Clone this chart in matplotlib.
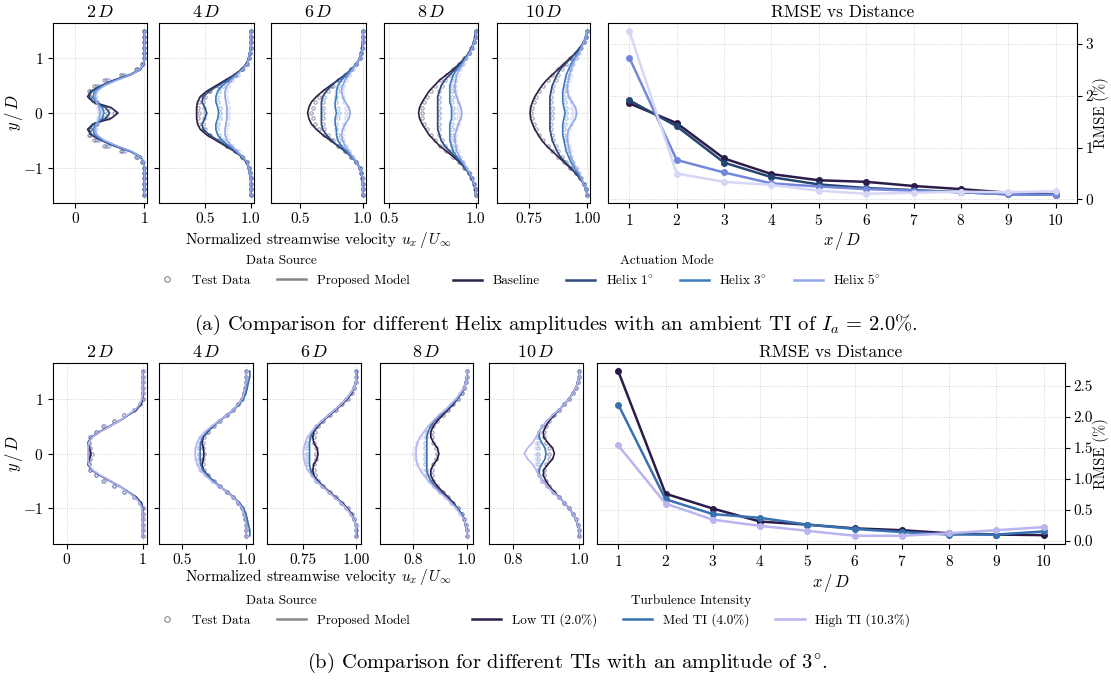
import numpy as np
import matplotlib
matplotlib.use("Agg")
import matplotlib.pyplot as plt
from matplotlib.lines import Line2D
from matplotlib.ticker import FormatStrFormatter

plt.rcParams.update({
    "font.family": "serif",
    "font.serif": ["cmr10", "DejaVu Serif"],
    "mathtext.fontset": "cm",
    "axes.formatter.use_mathtext": True,
    "axes.unicode_minus": True,
})

# ---------------- data ----------------
Y_HALF = [0.0, 0.1, 0.2, 0.3, 0.4, 0.5, 0.6, 0.7, 0.8, 0.9, 1.0, 1.1, 1.2, 1.3, 1.4, 1.5]
DIST_LABELS = ["$2\\,D$", "$4\\,D$", "$6\\,D$", "$8\\,D$", "$10\\,D$"]
X_DIST = [1, 2, 3, 4, 5, 6, 7, 8, 9, 10]

# (a) Helix amplitudes, half profiles u/U at |y|/D = Y_HALF, per distance 2,4,6,8,10 D
A_MODES = ["Baseline", "Helix 1$^{\\circ}$", "Helix 3$^{\\circ}$", "Helix 5$^{\\circ}$"]
A_BASE_MODEL = [
    [0.62, 0.52, 0.26, 0.18, 0.23, 0.38, 0.56, 0.80, 0.95, 0.99, 1.0, 1.0, 1.0, 1.0, 1.0, 1.0],
    [0.41, 0.41, 0.42, 0.45, 0.52, 0.62, 0.72, 0.82, 0.90, 0.95, 0.98, 0.99, 1.0, 1.0, 1.0, 1.0],
    [0.56, 0.57, 0.59, 0.63, 0.68, 0.74, 0.80, 0.86, 0.91, 0.95, 0.975, 0.99, 0.995, 1.0, 1.0, 1.0],
    [0.67, 0.675, 0.69, 0.71, 0.73, 0.76, 0.79, 0.83, 0.87, 0.905, 0.935, 0.96, 0.975, 0.99, 0.995, 1.0],
    [0.755, 0.757, 0.765, 0.775, 0.79, 0.805, 0.825, 0.85, 0.875, 0.90, 0.925, 0.95, 0.97, 0.985, 0.995, 1.0],
]
A_BASE_TEST = [
    [0.56, 0.48, 0.30, 0.21, 0.20, 0.27, 0.42, 0.66, 0.88, 0.97, 1.0, 1.0, 1.0, 1.0, 1.0, 1.0],
    [0.44, 0.43, 0.44, 0.48, 0.55, 0.64, 0.74, 0.83, 0.91, 0.96, 0.98, 0.99, 1.0, 1.0, 1.0, 1.0],
    [0.59, 0.60, 0.62, 0.65, 0.69, 0.75, 0.80, 0.86, 0.91, 0.95, 0.975, 0.99, 0.995, 1.0, 1.0, 1.0],
    [0.69, 0.69, 0.70, 0.72, 0.74, 0.765, 0.795, 0.83, 0.87, 0.905, 0.935, 0.96, 0.975, 0.99, 0.995, 1.0],
    [0.76, 0.762, 0.77, 0.78, 0.795, 0.81, 0.83, 0.85, 0.875, 0.90, 0.925, 0.95, 0.97, 0.985, 0.995, 1.0],
]
A_H1_MODEL = [
    [0.50, 0.44, 0.27, 0.20, 0.24, 0.38, 0.56, 0.79, 0.94, 0.99, 1.0, 1.0, 1.0, 1.0, 1.0, 1.0],
    [0.52, 0.50, 0.47, 0.48, 0.55, 0.64, 0.74, 0.83, 0.91, 0.96, 0.98, 0.99, 1.0, 1.0, 1.0, 1.0],
    [0.67, 0.67, 0.67, 0.68, 0.71, 0.75, 0.80, 0.86, 0.91, 0.95, 0.975, 0.99, 0.995, 1.0, 1.0, 1.0],
    [0.78, 0.78, 0.78, 0.78, 0.79, 0.80, 0.82, 0.85, 0.88, 0.91, 0.94, 0.96, 0.98, 0.99, 1.0, 1.0],
    [0.84, 0.84, 0.84, 0.84, 0.845, 0.85, 0.86, 0.87, 0.885, 0.905, 0.93, 0.95, 0.97, 0.985, 0.995, 1.0],
]
A_H1_TEST = [
    [0.46, 0.42, 0.29, 0.22, 0.22, 0.30, 0.45, 0.68, 0.89, 0.97, 1.0, 1.0, 1.0, 1.0, 1.0, 1.0],
    [0.50, 0.49, 0.48, 0.50, 0.56, 0.65, 0.74, 0.83, 0.91, 0.96, 0.98, 0.99, 1.0, 1.0, 1.0, 1.0],
    [0.68, 0.68, 0.68, 0.69, 0.72, 0.76, 0.81, 0.86, 0.91, 0.95, 0.975, 0.99, 0.995, 1.0, 1.0, 1.0],
    [0.79, 0.79, 0.785, 0.785, 0.79, 0.805, 0.825, 0.85, 0.88, 0.91, 0.94, 0.96, 0.98, 0.99, 1.0, 1.0],
    [0.85, 0.85, 0.845, 0.845, 0.85, 0.855, 0.865, 0.875, 0.89, 0.91, 0.93, 0.95, 0.97, 0.985, 0.995, 1.0],
]
A_H3_MODEL = [
    [0.42, 0.39, 0.30, 0.26, 0.28, 0.40, 0.58, 0.80, 0.94, 0.99, 1.0, 1.0, 1.0, 1.0, 1.0, 1.0],
    [0.65, 0.64, 0.62, 0.62, 0.64, 0.69, 0.76, 0.84, 0.91, 0.96, 0.98, 0.99, 1.0, 1.0, 1.0, 1.0],
    [0.79, 0.78, 0.78, 0.79, 0.79, 0.80, 0.83, 0.87, 0.91, 0.95, 0.975, 0.99, 1.0, 1.0, 1.0, 1.0],
    [0.86, 0.86, 0.85, 0.85, 0.85, 0.85, 0.86, 0.87, 0.89, 0.92, 0.94, 0.96, 0.98, 0.99, 1.0, 1.0],
    [0.905, 0.90, 0.895, 0.895, 0.895, 0.90, 0.905, 0.91, 0.92, 0.93, 0.945, 0.96, 0.975, 0.985, 0.995, 1.0],
]
A_H3_TEST = [
    [0.38, 0.36, 0.31, 0.27, 0.27, 0.33, 0.47, 0.70, 0.90, 0.98, 1.0, 1.0, 1.0, 1.0, 1.0, 1.0],
    [0.66, 0.66, 0.64, 0.63, 0.65, 0.70, 0.77, 0.84, 0.91, 0.96, 0.98, 0.99, 1.0, 1.0, 1.0, 1.0],
    [0.81, 0.80, 0.79, 0.79, 0.80, 0.81, 0.84, 0.87, 0.91, 0.95, 0.975, 0.99, 1.0, 1.0, 1.0, 1.0],
    [0.87, 0.87, 0.865, 0.86, 0.86, 0.86, 0.865, 0.875, 0.895, 0.92, 0.94, 0.96, 0.98, 0.99, 1.0, 1.0],
    [0.91, 0.91, 0.905, 0.90, 0.90, 0.905, 0.91, 0.915, 0.925, 0.935, 0.95, 0.96, 0.975, 0.985, 0.995, 1.0],
]
A_H5_MODEL = [
    [0.36, 0.35, 0.31, 0.29, 0.31, 0.42, 0.60, 0.81, 0.94, 0.99, 1.0, 1.0, 1.0, 1.0, 1.0, 1.0],
    [0.74, 0.74, 0.73, 0.72, 0.72, 0.74, 0.79, 0.85, 0.91, 0.96, 0.98, 0.99, 1.0, 1.0, 1.0, 1.0],
    [0.90, 0.89, 0.86, 0.84, 0.83, 0.84, 0.86, 0.89, 0.92, 0.95, 0.975, 0.99, 1.0, 1.0, 1.0, 1.0],
    [0.92, 0.915, 0.90, 0.89, 0.88, 0.88, 0.885, 0.89, 0.905, 0.925, 0.945, 0.965, 0.98, 0.99, 1.0, 1.0],
    [0.955, 0.95, 0.935, 0.92, 0.915, 0.915, 0.92, 0.925, 0.93, 0.94, 0.95, 0.965, 0.975, 0.985, 0.995, 1.0],
]
A_H5_TEST = [
    [0.34, 0.33, 0.31, 0.30, 0.30, 0.35, 0.49, 0.72, 0.91, 0.98, 1.0, 1.0, 1.0, 1.0, 1.0, 1.0],
    [0.75, 0.75, 0.74, 0.73, 0.73, 0.75, 0.80, 0.86, 0.92, 0.96, 0.98, 0.99, 1.0, 1.0, 1.0, 1.0],
    [0.87, 0.865, 0.85, 0.84, 0.835, 0.845, 0.865, 0.89, 0.92, 0.95, 0.975, 0.99, 1.0, 1.0, 1.0, 1.0],
    [0.90, 0.90, 0.895, 0.885, 0.88, 0.88, 0.885, 0.895, 0.91, 0.925, 0.945, 0.965, 0.98, 0.99, 1.0, 1.0],
    [0.94, 0.935, 0.93, 0.92, 0.915, 0.915, 0.92, 0.925, 0.93, 0.94, 0.95, 0.965, 0.975, 0.985, 0.995, 1.0],
]
A_RMSE_BASE = [1.85, 1.47, 0.79, 0.49, 0.37, 0.34, 0.26, 0.20, 0.13, 0.10]
A_RMSE_H1 = [1.91, 1.41, 0.71, 0.43, 0.29, 0.22, 0.18, 0.14, 0.10, 0.09]
A_RMSE_H3 = [2.73, 0.76, 0.52, 0.31, 0.25, 0.20, 0.17, 0.14, 0.10, 0.09]
A_RMSE_H5 = [3.24, 0.50, 0.34, 0.28, 0.17, 0.11, 0.13, 0.15, 0.14, 0.16]

# (b) Turbulence intensities
B_MODES = ["Low TI (2.0%)", "Med TI (4.0%)", "High TI (10.3%)"]
B_LOW_MODEL = [
    [0.32, 0.30, 0.28, 0.33, 0.44, 0.57, 0.70, 0.81, 0.92, 0.98, 1.0, 1.0, 1.0, 1.0, 1.0, 1.0],
    [0.67, 0.665, 0.655, 0.665, 0.70, 0.74, 0.79, 0.85, 0.90, 0.94, 0.97, 0.985, 0.995, 1.0, 1.0, 1.0],
    [0.82, 0.815, 0.80, 0.795, 0.80, 0.82, 0.845, 0.875, 0.905, 0.935, 0.96, 0.98, 0.99, 1.0, 1.0, 1.0],
    [0.895, 0.89, 0.875, 0.865, 0.865, 0.875, 0.89, 0.91, 0.93, 0.95, 0.965, 0.98, 0.99, 0.995, 1.0, 1.0],
    [0.925, 0.92, 0.905, 0.893, 0.892, 0.90, 0.91, 0.925, 0.94, 0.955, 0.97, 0.98, 0.99, 0.995, 1.0, 1.0],
]
B_LOW_TEST = [
    [0.33, 0.31, 0.29, 0.31, 0.38, 0.48, 0.62, 0.76, 0.89, 0.97, 1.0, 1.0, 1.0, 1.0, 1.0, 1.0],
    [0.67, 0.665, 0.66, 0.67, 0.70, 0.745, 0.795, 0.85, 0.90, 0.94, 0.97, 0.985, 0.995, 1.0, 1.0, 1.0],
    [0.81, 0.81, 0.80, 0.80, 0.805, 0.82, 0.845, 0.875, 0.905, 0.935, 0.96, 0.98, 0.99, 1.0, 1.0, 1.0],
    [0.89, 0.885, 0.875, 0.87, 0.87, 0.875, 0.89, 0.91, 0.93, 0.95, 0.965, 0.98, 0.99, 0.995, 1.0, 1.0],
    [0.91, 0.91, 0.90, 0.895, 0.895, 0.90, 0.91, 0.925, 0.94, 0.955, 0.97, 0.98, 0.99, 0.995, 1.0, 1.0],
]
B_MED_MODEL = [
    [0.29, 0.29, 0.28, 0.33, 0.44, 0.57, 0.70, 0.81, 0.91, 0.97, 0.995, 1.0, 1.0, 1.0, 1.0, 1.0],
    [0.64, 0.64, 0.645, 0.66, 0.70, 0.745, 0.795, 0.855, 0.905, 0.95, 0.98, 1.0, 1.01, 1.02, 1.03, 1.03],
    [0.78, 0.78, 0.78, 0.785, 0.795, 0.815, 0.84, 0.87, 0.90, 0.93, 0.955, 0.975, 0.99, 1.0, 1.005, 1.005],
    [0.85, 0.85, 0.85, 0.85, 0.855, 0.865, 0.88, 0.90, 0.925, 0.945, 0.965, 0.98, 0.99, 0.995, 1.0, 1.0],
    [0.90, 0.897, 0.887, 0.879, 0.88, 0.89, 0.905, 0.92, 0.94, 0.955, 0.97, 0.98, 0.99, 0.995, 1.0, 1.0],
]
B_MED_TEST = [
    [0.30, 0.30, 0.29, 0.31, 0.39, 0.49, 0.62, 0.76, 0.89, 0.97, 1.0, 1.0, 1.0, 1.0, 1.0, 1.0],
    [0.63, 0.63, 0.635, 0.65, 0.69, 0.74, 0.79, 0.85, 0.90, 0.94, 0.97, 0.985, 0.995, 1.0, 1.0, 1.0],
    [0.77, 0.77, 0.77, 0.78, 0.79, 0.81, 0.84, 0.87, 0.90, 0.93, 0.955, 0.975, 0.99, 1.0, 1.0, 1.0],
    [0.845, 0.845, 0.845, 0.847, 0.852, 0.862, 0.878, 0.90, 0.925, 0.945, 0.965, 0.98, 0.99, 0.995, 1.0, 1.0],
    [0.875, 0.875, 0.875, 0.875, 0.878, 0.888, 0.903, 0.92, 0.94, 0.955, 0.97, 0.98, 0.99, 0.995, 1.0, 1.0],
]
B_HIGH_MODEL = [
    [0.28, 0.28, 0.29, 0.34, 0.45, 0.58, 0.70, 0.80, 0.90, 0.96, 0.99, 1.0, 1.0, 1.0, 1.0, 1.0],
    [0.60, 0.605, 0.615, 0.64, 0.68, 0.73, 0.79, 0.85, 0.90, 0.94, 0.97, 0.985, 0.995, 1.0, 1.0, 1.0],
    [0.75, 0.752, 0.76, 0.77, 0.79, 0.81, 0.84, 0.87, 0.90, 0.93, 0.955, 0.975, 0.99, 1.0, 1.0, 1.0],
    [0.81, 0.81, 0.815, 0.825, 0.84, 0.855, 0.875, 0.895, 0.92, 0.94, 0.96, 0.975, 0.99, 0.995, 1.0, 1.0],
    [0.835, 0.845, 0.86, 0.87, 0.88, 0.89, 0.905, 0.92, 0.94, 0.955, 0.97, 0.98, 0.99, 0.995, 1.0, 1.0],
]
B_HIGH_TEST = [
    [0.29, 0.29, 0.295, 0.32, 0.40, 0.50, 0.63, 0.76, 0.88, 0.96, 0.99, 1.0, 1.0, 1.0, 1.0, 1.0],
    [0.61, 0.61, 0.62, 0.64, 0.68, 0.73, 0.785, 0.845, 0.90, 0.94, 0.97, 0.985, 0.995, 1.0, 1.0, 1.0],
    [0.76, 0.76, 0.765, 0.775, 0.79, 0.81, 0.84, 0.87, 0.90, 0.93, 0.955, 0.975, 0.99, 1.0, 1.0, 1.0],
    [0.80, 0.805, 0.815, 0.83, 0.845, 0.86, 0.878, 0.898, 0.92, 0.94, 0.96, 0.975, 0.99, 0.995, 1.0, 1.0],
    [0.87, 0.87, 0.87, 0.872, 0.878, 0.888, 0.903, 0.92, 0.94, 0.955, 0.97, 0.98, 0.99, 0.995, 1.0, 1.0],
]
B_RMSE_LOW = [2.74, 0.76, 0.52, 0.31, 0.26, 0.20, 0.17, 0.12, 0.10, 0.09]
B_RMSE_MED = [2.20, 0.67, 0.43, 0.37, 0.26, 0.19, 0.14, 0.10, 0.10, 0.15]
B_RMSE_HIGH = [1.54, 0.60, 0.34, 0.24, 0.16, 0.08, 0.08, 0.12, 0.17, 0.22]

# ---------------- styles ----------------
A_COLORS = ["#2e2148", "#2c4a7e", "#3f7cc0", "#93a6e8"]
A_RMSE_COLORS = ["#2b1c4a", "#264573", "#7388da", "#d6d7f6"]
B_COLORS = ["#2a1b4a", "#3870b0", "#b8b5ef"]

W, H = 1111, 682
fig = plt.figure(figsize=(W / 100, H / 100), dpi=100)


def px_axes(x0, x1, y0, y1):
    return fig.add_axes([x0 / W, 1 - y1 / H, (x1 - x0) / W, (y1 - y0) / H])


def full(half):
    h = list(half)
    return h[::-1] + h[1:]


Y_FULL = [-v for v in Y_HALF[::-1]] + Y_HALF[1:]


def draw_row(boxes, ytop, ybot, xlims, xticks, xfmts, models, tests, colors,
             rmse_box, rmse_series, rmse_colors, rmse_yticks, rmse_fmt, rmse_lab_x):
    axes = []
    for i, (x0, x1) in enumerate(boxes):
        ax = px_axes(x0, x1, ytop, ybot)
        for k in range(len(models)):
            ax.plot(full(tests[k][i]), Y_FULL, ls="none", marker="o", ms=2.4,
                    mfc="none", mec=colors[k], mew=0.7, alpha=0.5, zorder=2)
        for k in range(len(models)):
            ax.plot(full(models[k][i]), Y_FULL, color=colors[k], lw=1.2, zorder=3)
        ax.set_xlim(*xlims[i])
        ax.set_ylim(-1.65, 1.65)
        ax.set_xticks(xticks[i])
        ax.xaxis.set_major_formatter(FormatStrFormatter(xfmts[i]))
        ax.set_yticks([-1, 0, 1])
        if i > 0:
            ax.set_yticklabels([])
        else:
            ax.set_ylabel("$y\\,/\\,D$", fontsize=12)
            ax.yaxis.set_label_coords(-(x0 - 25) / (x1 - x0), 0.5)
        ax.grid(True, ls=":", lw=0.6, color="#c8c8c8")
        ax.set_title(DIST_LABELS[i], fontsize=13, pad=4)
        ax.tick_params(labelsize=11)
        axes.append(ax)
    r0, r1 = rmse_box
    ax = px_axes(r0, r1, ytop, ybot)
    for k, (ser, lab) in enumerate(rmse_series):
        ax.plot(X_DIST, ser, color=rmse_colors[k], lw=1.8, marker="o", ms=4, label=lab)
    ax.set_xticks(X_DIST)
    ax.set_yticks(rmse_yticks)
    ax.yaxis.set_major_formatter(FormatStrFormatter(rmse_fmt))
    ax.yaxis.tick_right()
    ax.yaxis.set_label_position("right")
    ax.set_ylabel("RMSE (%)", fontsize=10.5)
    ax.yaxis.set_label_coords((rmse_lab_x - r0) / (r1 - r0), 0.5)
    ax.set_xlabel("$x\\,/\\,D$", fontsize=12, labelpad=2)
    ax.set_title("RMSE vs Distance", fontsize=12.5, pad=4)
    ax.grid(True, ls=":", lw=0.6, color="#c8c8c8")
    ax.tick_params(labelsize=11)
    ax.tick_params(axis="y", pad=2.5)
    return axes, ax


# ---- row (a)
a_boxes = [(53, 147), (159, 254), (271, 366), (384, 478), (497, 590)]
a_xlims = [(-0.32, 1.04), (0.0, 1.036), (0.268, 1.026), (0.47, 1.013), (0.613, 1.012)]
a_xticks = [[0, 1], [0.5, 1.0], [0.5, 1.0], [0.5, 1.0], [0.75, 1.0]]
a_xfmts = ["%d", "%.1f", "%.1f", "%.1f", "%.2f"]
draw_row(a_boxes, 23, 203, a_xlims, a_xticks, a_xfmts,
         [A_BASE_MODEL, A_H1_MODEL, A_H3_MODEL, A_H5_MODEL],
         [A_BASE_TEST, A_H1_TEST, A_H3_TEST, A_H5_TEST], A_COLORS,
         (608, 1077),
         [(A_RMSE_BASE, A_MODES[0]), (A_RMSE_H1, A_MODES[1]),
          (A_RMSE_H3, A_MODES[2]), (A_RMSE_H5, A_MODES[3])],
         A_RMSE_COLORS, [0, 1, 2, 3], "%d", 1093)

# ---- row (b)
b_boxes = [(53, 147), (159, 253), (267, 361), (380, 473), (489, 583)]
b_xlims = [(-0.18, 1.057), (0.317, 1.055), (0.578, 1.024), (0.675, 1.023), (0.729, 1.011)]
b_xticks = [[0, 1], [0.5, 1.0], [0.75, 1.0], [0.8, 1.0], [0.8, 1.0]]
b_xfmts = ["%d", "%.1f", "%.2f", "%.1f", "%.1f"]
draw_row(b_boxes, 363, 544, b_xlims, b_xticks, b_xfmts,
         [B_LOW_MODEL, B_MED_MODEL, B_HIGH_MODEL],
         [B_LOW_TEST, B_MED_TEST, B_HIGH_TEST], B_COLORS,
         (597, 1065),
         [(B_RMSE_LOW, B_MODES[0]), (B_RMSE_MED, B_MODES[1]), (B_RMSE_HIGH, B_MODES[2])],
         B_COLORS, [0.0, 0.5, 1.0, 1.5, 2.0, 2.5], "%.1f", 1093)

# ---- shared x labels
for yy in (240, 577):
    fig.text(318 / W, 1 - yy / H, "Normalized streamwise velocity $u_x\\,/\\,U_\\infty$",
             ha="center", va="center", fontsize=11)

# ---- legends
src_handles = [
    Line2D([], [], ls="none", marker="o", mfc="none", mec="#888888", ms=4, mew=0.8),
    Line2D([], [], color="#888888", lw=1.8),
]
src_labels = ["Test Data", "Proposed Model"]


def add_legend(handles, labels, title, cx, cy, ncol):
    leg = fig.legend(handles, labels, title=title, loc="center",
                     bbox_to_anchor=(cx / W, 1 - cy / H), ncol=ncol, frameon=False,
                     fontsize=9.5, title_fontsize=9.5, handlelength=2.2,
                     columnspacing=2.0, handletextpad=0.8)
    return leg


add_legend(src_handles, src_labels, "Data Source", 281, 271, 2)
add_legend([Line2D([], [], color=c, lw=1.8) for c in A_COLORS], A_MODES,
           "Actuation Mode", 667, 271, 4)
add_legend(src_handles, src_labels, "Data Source", 281, 611, 2)
add_legend([Line2D([], [], color=c, lw=1.8) for c in B_COLORS], B_MODES,
           "Turbulence Intensity", 691, 611, 3)

# ---- captions
fig.text(556 / W, 1 - 325 / H,
         "(a) Comparison for different Helix amplitudes with an ambient TI of $I_a\\,=\\,2.0\\%$.",
         ha="center", va="center", fontsize=14.8)
fig.text(567 / W, 1 - 663 / H,
         "(b) Comparison for different TIs with an amplitude of 3$^{\\circ}$.",
         ha="center", va="center", fontsize=14.8)

fig.savefig("out.png", dpi=100)
